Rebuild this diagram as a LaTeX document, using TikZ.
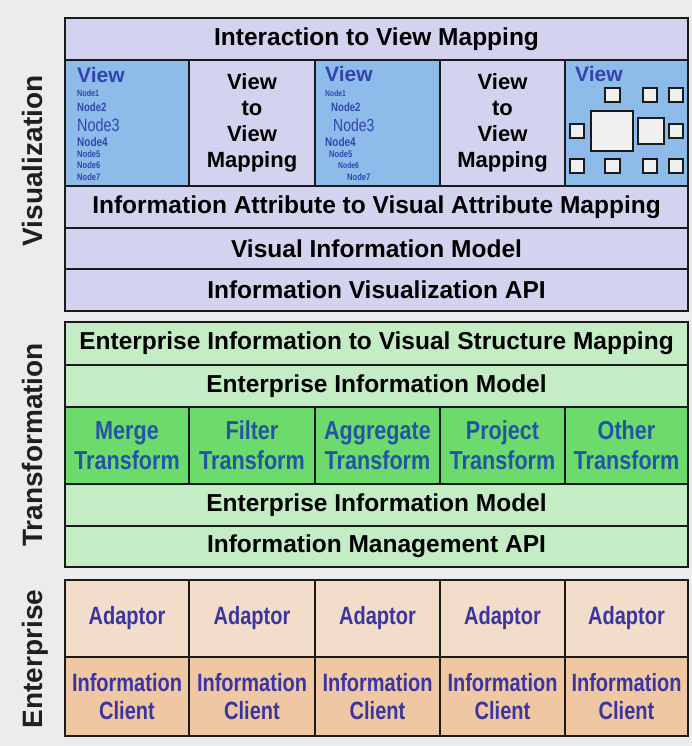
\documentclass[tikz,border=0pt]{standalone}
\usepackage{fontspec}
\setmainfont{Liberation Sans}
\newfontfamily\narrowfont[FakeStretch=0.8]{Liberation Sans}
\newfontfamily\trfont[FakeStretch=0.83]{Liberation Sans}
\definecolor{bgc}{HTML}{ECECEC}
\definecolor{lav}{HTML}{D3D3EF}
\definecolor{viewblue}{HTML}{8DBCEA}
\definecolor{lgreen}{HTML}{C5EDC5}
\definecolor{mgreen}{HTML}{6CDB6C}
\definecolor{peachA}{HTML}{F2DDCB}
\definecolor{peachB}{HTML}{EFC7A2}
\definecolor{viewtxt}{HTML}{3344B0}
\definecolor{trtxt}{HTML}{2455A5}
\definecolor{enttxt}{HTML}{3A35A0}
\definecolor{edge}{HTML}{1A1A1A}
\newcommand\cellbox[7]{%
  \node[cellbase,#6,minimum width={(#4-#2)*1pt},minimum height={(#5-#3)*1pt}] (#1) at ({(#2+#4)/2},{(#3+#5)/2}) {#7};}
\begin{document}
\begin{tikzpicture}[x=1pt,y=-1pt,
  cellbase/.style={draw=edge,line width=1.4pt,rectangle,inner sep=0pt,outer sep=0pt,align=center},
  head/.style={font=\bfseries\fontsize{24.5}{29}\selectfont,text=black},
  vtv/.style={fill=lav,font=\bfseries\fontsize{22}{26}\selectfont,text=black},
  viewc/.style={fill=viewblue},
  trc/.style={fill=mgreen,font=\trfont\bfseries\fontsize{26}{30}\selectfont,text=trtxt},
  entc/.style={font=\narrowfont\bfseries\fontsize{25}{28}\selectfont,text=enttxt},
  viewlab/.style={anchor=base west,inner sep=0pt,font=\bfseries\fontsize{21}{21}\selectfont,text=viewtxt},
  nd/.style={anchor=west,inner sep=0pt,text=viewtxt},
  sq/.style={draw=edge,line width=1.1pt,fill=bgc!80!white},
  sidelab/.style={rotate=90,anchor=base,inner sep=0pt,font=\bfseries\fontsize{28}{28}\selectfont,text=black!88}]
\fill[bgc] (0,0) rectangle (692,746);
\useasboundingbox (0,0) rectangle (692,746);
% side labels
\node[sidelab] (lvis) at (42,161) {Visualization};
\node[sidelab] (ltr) at (42,445) {Transformation};
\node[sidelab] (lent) at (42,659) {Enterprise};
% ---------- Visualization ----------
\cellbox{ivm}{65}{18}{688}{60}{fill=lav,head}{Interaction to View Mapping}
\cellbox{v1}{65}{60}{189}{186}{viewc}{}
\cellbox{m1}{189}{60}{315}{186}{vtv}{View\\to\\View\\Mapping}
\cellbox{v2}{315}{60}{440}{186}{viewc}{}
\cellbox{m2}{440}{60}{565}{186}{vtv}{View\\to\\View\\Mapping}
\cellbox{v3}{565}{60}{688}{186}{viewc}{}
\cellbox{iav}{65}{186}{688}{228}{fill=lav,head}{Information Attribute to Visual Attribute Mapping}
\cellbox{vim}{65}{228}{688}{269}{fill=lav,head}{Visual Information Model}
\cellbox{iva}{65}{269}{688}{311}{fill=lav,head}{Information Visualization API}
% view 1 contents
\node[viewlab] (v1t) at (77,83) {View};
\node[nd,font=\narrowfont\bfseries\fontsize{9}{9}\selectfont] (a1) at (77,93) {Node1};
\node[nd,font=\narrowfont\bfseries\fontsize{12}{12}\selectfont] (a2) at (77,107) {Node2};
\node[nd,font=\narrowfont\fontsize{18}{18}\selectfont] (a3) at (77,125) {Node3};
\node[nd,font=\narrowfont\bfseries\fontsize{12.5}{12}\selectfont] (a4) at (77,142) {Node4};
\node[nd,font=\narrowfont\bfseries\fontsize{9.5}{9}\selectfont] (a5) at (77,154) {Node5};
\node[nd,font=\narrowfont\bfseries\fontsize{9.5}{9}\selectfont] (a6) at (77,165) {Node6};
\node[nd,font=\narrowfont\bfseries\fontsize{9.5}{9}\selectfont] (a7) at (77,177) {Node7};
% view 2 contents
\node[viewlab] (v2t) at (325,82) {View};
\node[nd,font=\narrowfont\bfseries\fontsize{8.5}{9}\selectfont] (b1) at (325,93) {Node1};
\node[nd,font=\narrowfont\bfseries\fontsize{12}{12}\selectfont] (b2) at (331,107) {Node2};
\node[nd,font=\narrowfont\fontsize{17.5}{18}\selectfont] (b3) at (333,125) {Node3};
\node[nd,font=\narrowfont\bfseries\fontsize{12.5}{12}\selectfont] (b4) at (325,142) {Node4};
\node[nd,font=\narrowfont\bfseries\fontsize{9.5}{9}\selectfont] (b5) at (329,154) {Node5};
\node[nd,font=\narrowfont\bfseries\fontsize{8.5}{9}\selectfont] (b6) at (338,165) {Node6};
\node[nd,font=\narrowfont\bfseries\fontsize{9.5}{9}\selectfont] (b7) at (347,177) {Node7};
% view 3 contents
\node[viewlab] (v3t) at (575,82) {View};
\cellbox{s1}{605}{88}{620}{102}{sq}{}
\cellbox{s2}{643}{88}{657}{102}{sq}{}
\cellbox{s3}{669}{88}{683}{102}{sq}{}
\cellbox{s4}{570}{124}{584}{138}{sq}{}
\cellbox{s5}{591}{111}{633}{151}{sq}{}
\cellbox{s6}{638}{118}{664}{144}{sq}{}
\cellbox{s7}{669}{124}{683}{138}{sq}{}
\cellbox{s8}{570}{159}{584}{173}{sq}{}
\cellbox{s9}{605}{159}{620}{173}{sq}{}
\cellbox{s10}{643}{159}{657}{173}{sq}{}
\cellbox{s11}{669}{159}{683}{173}{sq}{}
% ---------- Transformation ----------
\cellbox{eis}{65}{322}{688}{365}{fill=lgreen,head}{Enterprise Information to Visual Structure Mapping}
\cellbox{eim1}{65}{365}{688}{407}{fill=lgreen,head}{Enterprise Information Model}
\cellbox{t1}{65}{407}{189}{484}{trc}{Merge\\Transform}
\cellbox{t2}{189}{407}{315}{484}{trc}{Filter\\Transform}
\cellbox{t3}{315}{407}{440}{484}{trc}{Aggregate\\Transform}
\cellbox{t4}{440}{407}{565}{484}{trc}{Project\\Transform}
\cellbox{t5}{565}{407}{688}{484}{trc}{Other\\Transform}
\cellbox{eim2}{65}{484}{688}{526}{fill=lgreen,head}{Enterprise Information Model}
\cellbox{api}{65}{526}{688}{567}{fill=lgreen,head}{Information Management API}
% ---------- Enterprise ----------
\cellbox{ad1}{65}{580}{189}{657}{fill=peachA,entc}{Adaptor}
\cellbox{ad2}{189}{580}{315}{657}{fill=peachA,entc}{Adaptor}
\cellbox{ad3}{315}{580}{440}{657}{fill=peachA,entc}{Adaptor}
\cellbox{ad4}{440}{580}{565}{657}{fill=peachA,entc}{Adaptor}
\cellbox{ad5}{565}{580}{688}{657}{fill=peachA,entc}{Adaptor}
\cellbox{ic1}{65}{657}{189}{736}{fill=peachB,entc}{Information\\Client}
\cellbox{ic2}{189}{657}{315}{736}{fill=peachB,entc}{Information\\Client}
\cellbox{ic3}{315}{657}{440}{736}{fill=peachB,entc}{Information\\Client}
\cellbox{ic4}{440}{657}{565}{736}{fill=peachB,entc}{Information\\Client}
\cellbox{ic5}{565}{657}{688}{736}{fill=peachB,entc}{Information\\Client}
\end{tikzpicture}
\end{document}
